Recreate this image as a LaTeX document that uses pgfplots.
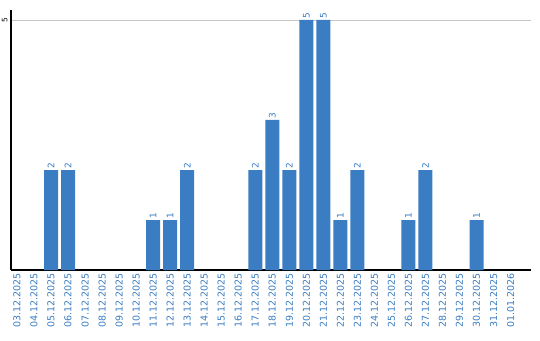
\documentclass[border=0pt]{standalone}
\usepackage{pgfplots}
\pgfplotsset{compat=1.18}
\usepackage{fontspec}
\setmainfont{DejaVu Sans}
\definecolor{barblue}{RGB}{58,125,194}
\begin{document}
\begin{tikzpicture}
\useasboundingbox (-11pt,-70pt) rectangle (529pt,270pt);
\begin{axis}[
  at={(0,0)}, anchor=south west,
  scale only axis, width=520pt, height=260pt,
  xmin=-0.35, xmax=30.2, ymin=0, ymax=5.2,
  /pgf/number format/assume math mode=true,
  axis x line=bottom, axis y line=left,
  axis line style={-, black, line width=1.1pt},
  xtick={0,...,29},
  xticklabels={03.12.2025,04.12.2025,05.12.2025,06.12.2025,07.12.2025,08.12.2025,09.12.2025,10.12.2025,11.12.2025,12.12.2025,13.12.2025,14.12.2025,15.12.2025,16.12.2025,17.12.2025,18.12.2025,19.12.2025,20.12.2025,21.12.2025,22.12.2025,23.12.2025,24.12.2025,25.12.2025,26.12.2025,27.12.2025,28.12.2025,29.12.2025,30.12.2025,31.12.2025,01.01.2026},
  x tick label style={rotate=90, anchor=east, font=\fontsize{9.5}{10}\selectfont, text=barblue},
  ytick={5},
  y tick label style={rotate=90, anchor=south, font=\fontsize{7.5}{8}\selectfont},
  ymajorgrids, grid style={black!22, line width=0.8pt},
  major tick length=0pt,
  ybar, bar width=14pt,
  nodes near coords,
  nodes near coords style={rotate=90, anchor=west, font=\fontsize{9}{10}\selectfont, text=barblue, inner sep=1pt},
]
\addplot[fill=barblue, draw=none] coordinates {
  (2,2) (3,2) (8,1) (9,1) (10,2) (14,2) (15,3) (16,2) (17,5) (18,5)
  (19,1) (20,2) (23,1) (24,2) (27,1)
};
\end{axis}
\end{tikzpicture}
\end{document}
